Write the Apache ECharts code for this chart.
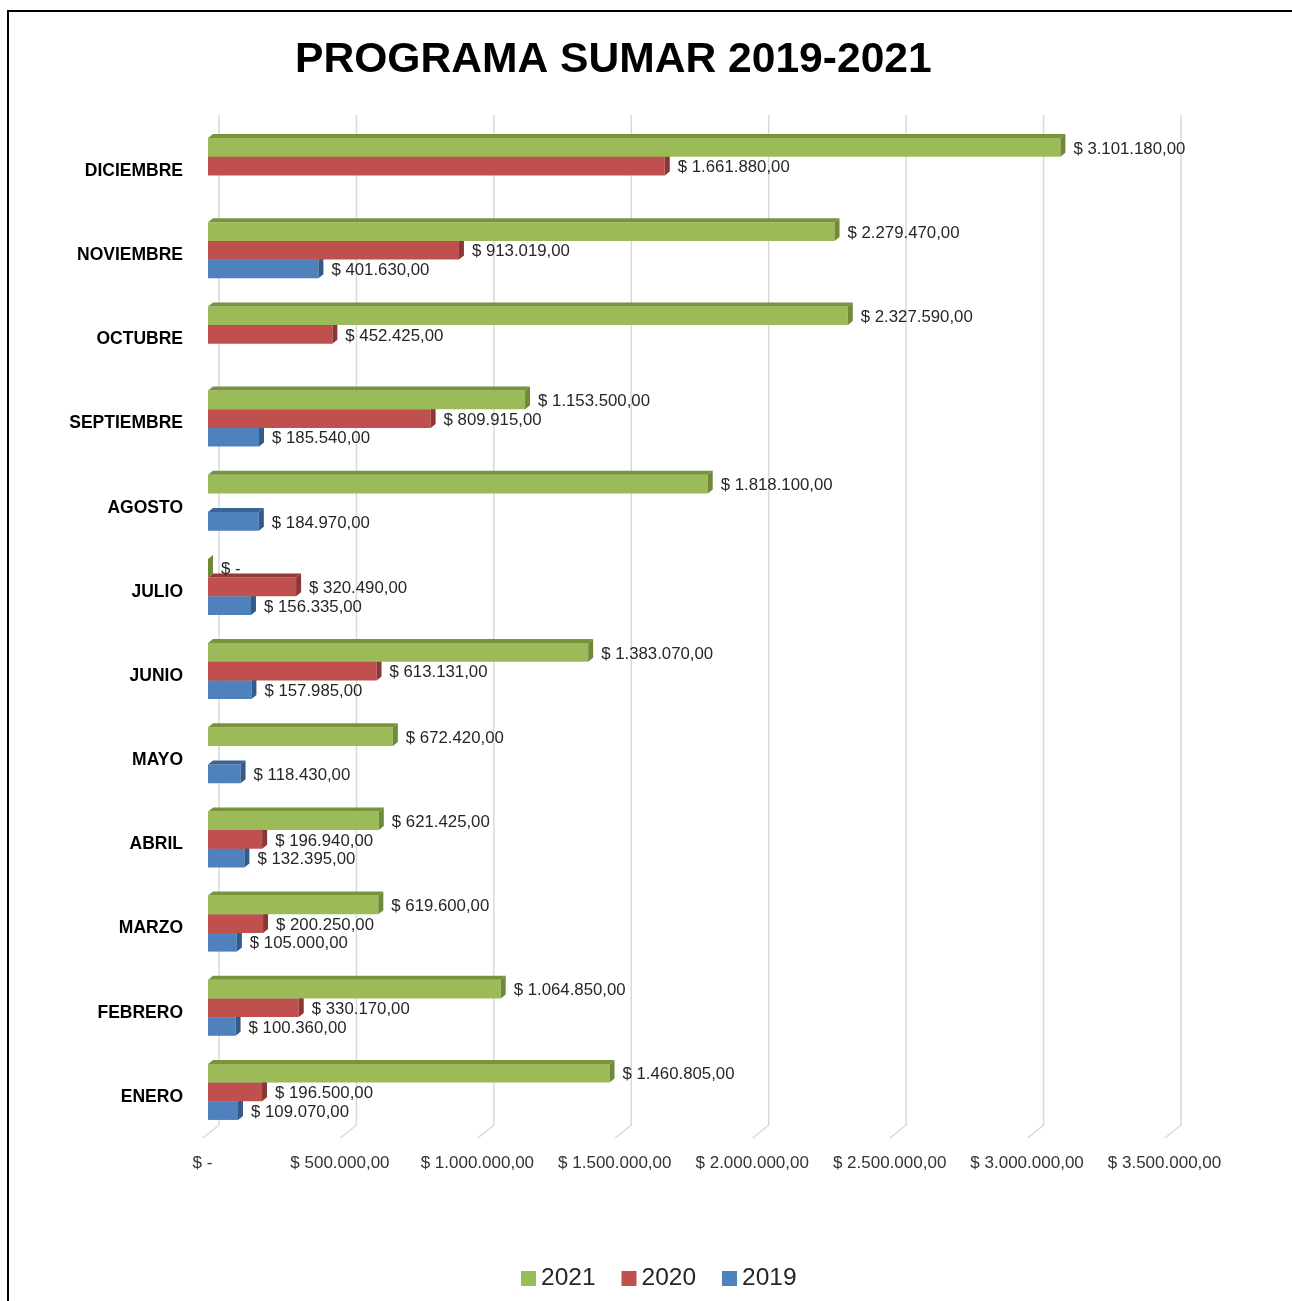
<!DOCTYPE html>
<html>
<head>
<meta charset="utf-8">
<script src="https://cdn.jsdelivr.net/npm/echarts@6/dist/echarts.min.js"></script>
<style>
html,body{margin:0;padding:0;background:#fff;}
#chart{width:1292px;height:1301px;}
</style>
</head>
<body>
<div id="chart"></div>
<script>
// ---- Data ----
const months = ['ENERO','FEBRERO','MARZO','ABRIL','MAYO','JUNIO','JULIO','AGOSTO','SEPTIEMBRE','OCTUBRE','NOVIEMBRE','DICIEMBRE'];
const values2021 = [1460805, 1064850, 619600, 621425, 672420, 1383070, 0, 1818100, 1153500, 2327590, 2279470, 3101180];
const values2020 = [196500, 330170, 200250, 196940, null, 613131, 320490, null, 809915, 452425, 913019, 1661880];
const values2019 = [109070, 100360, 105000, 132395, 118430, 157985, 156335, 184970, 185540, null, 401630, null];
const xTicks = [0, 500000, 1000000, 1500000, 2000000, 2500000, 3000000, 3500000];
const seriesNames = ['2021', '2020', '2019'];

// ---- Helpers ----
function fmtMoney(v) {
  if (v === 0) return '$ -';
  const s = Math.round(v).toString().replace(/\B(?=(\d{3})+(?!\d))/g, '.');
  return '$ ' + s + ',00';
}
const FONT = 'Liberation Sans, Arial, sans-serif';
const palette = {
  '2021': {front: '#9BBB59', top: '#77933C', side: '#6F8A37'},
  '2020': {front: '#C0504D', top: '#943B39', side: '#8B3735'},
  '2019': {front: '#4F81BD', top: '#3A6396', side: '#345A88'}
};
const DX = 5, DY = 4;

function makeBarSeries(name, slot, values) {
  const data = [];
  values.forEach((v, i) => { if (v !== null && v !== undefined) data.push([v, i]); });
  const c = palette[name];
  return {
    name: name,
    type: 'custom',
    itemStyle: {color: c.front},
    encode: {x: 0, y: 1},
    data: data,
    renderItem: function (params, api) {
      const v = api.value(0);
      const ci = api.value(1);
      const p0 = api.coord([0, ci]);
      const p1 = api.coord([v, ci]);
      const band = api.size([0, 1])[1];
      const h = band * 0.222;
      const y0 = p0[1] - 1.5 * h + slot * h;
      const y1 = y0 + h;
      const x0 = p0[0], x1 = p1[0];
      return {
        type: 'group',
        children: [
          {type: 'rect', shape: {x: x0, y: y0, width: Math.max(0, x1 - x0), height: h}, style: {fill: c.front}},
          {type: 'polygon', shape: {points: [[x0, y0], [x0 + DX, y0 - DY], [x1 + DX, y0 - DY], [x1, y0]]}, style: {fill: c.top}},
          {type: 'polygon', shape: {points: [[x1, y0], [x1 + DX, y0 - DY], [x1 + DX, y1 - DY], [x1, y1]]}, style: {fill: c.side}},
          {type: 'text', style: {text: fmtMoney(v), x: x1 + 13, y: (y0 + y1) / 2 + 1.5,
            verticalAlign: 'middle', textVerticalAlign: 'middle', align: 'left',
            fill: '#262626', fontSize: 16.8, fontFamily: FONT}}
        ]
      };
    }
  };
}

const gridSeries = {
  name: 'grid',
  type: 'custom',
  silent: true,
  encode: {x: 0},
  data: xTicks.map(t => [t]),
  renderItem: function (params, api) {
    const cs = params.coordSys;
    const x = api.coord([api.value(0), 0])[0];
    const top = cs.y - 9;
    const bot = cs.y + cs.height - 9;
    return {
      type: 'polyline',
      shape: {points: [[x + 11, top], [x + 11, bot], [x - 5, bot + 13]]},
      style: {stroke: '#D9D9D9', lineWidth: 1.5, fill: null}
    };
  }
};

const chart = echarts.init(document.getElementById('chart'), null, {renderer: 'canvas'});
chart.setOption({
  backgroundColor: '#fff',
  animation: false,
  title: {
    text: 'PROGRAMA SUMAR 2019-2021',
    left: 290, top: 34,
    textStyle: {fontSize: 42.6, fontWeight: 'bold', color: '#000', fontFamily: FONT}
  },
  legend: {
    data: seriesNames,
    left: 516, top: 1261,
    icon: 'rect', itemWidth: 15, itemHeight: 15, itemGap: 26,
    textStyle: {fontSize: 24.5, color: '#262626', fontFamily: FONT}
  },
  grid: {left: 208, right: 122, top: 124, bottom: 167, containLabel: false},
  xAxis: {
    type: 'value', min: 0, max: 3500000, interval: 500000,
    splitLine: {show: false}, axisLine: {show: false}, axisTick: {show: false},
    axisLabel: {
      margin: 21, padding: [0, 11, 0, 0],
      fontSize: 17, color: '#333', fontFamily: FONT,
      formatter: v => fmtMoney(v)
    }
  },
  yAxis: {
    type: 'category', data: months,
    axisLine: {show: false}, axisTick: {show: false},
    axisLabel: {
      margin: 25,
      formatter: v => '{m|' + v + '}',
      rich: {m: {padding: [10, 0, 0, 0], fontSize: 17.5, fontWeight: 'bold', color: '#000', fontFamily: FONT}}
    }
  },
  graphic: [{
    type: 'rect', silent: true, z: 100,
    shape: {x: 8, y: 11, width: 1400, height: 1400},
    style: {fill: null, stroke: '#000', lineWidth: 2}
  }],
  series: [
    gridSeries,
    makeBarSeries('2019', 2, values2019),
    makeBarSeries('2020', 1, values2020),
    makeBarSeries('2021', 0, values2021)
  ]
});
</script>
</body>
</html>
